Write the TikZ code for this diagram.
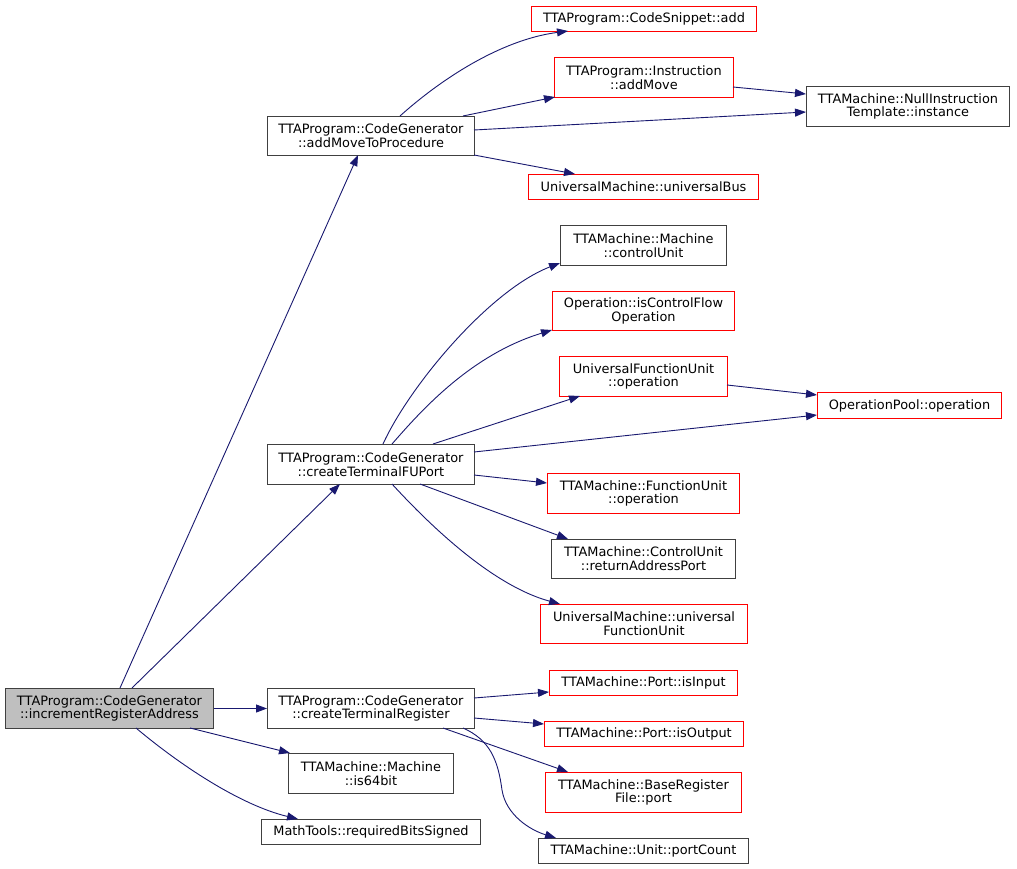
\documentclass[tikz,border=0pt]{standalone}
\usepackage{fontspec}
\setmainfont{DejaVu Sans}
\usetikzlibrary{arrows.meta,calc}
\definecolor{edgec}{HTML}{191970}
\definecolor{bordk}{HTML}{404040}
\definecolor{bordr}{HTML}{FF0000}
\definecolor{rootfill}{HTML}{BFBFBF}
\tikzset{
  bb/.style={draw=bordk,line width=1pt,inner sep=0pt,align=center,font=\fontsize{12.9}{13.8}\selectfont},
  rb/.style={draw=bordr,line width=1pt,inner sep=0pt,align=center,font=\fontsize{12.9}{13.8}\selectfont},
  ed/.style={draw=edgec,line width=0.9pt,-{Triangle[length=11pt,width=8pt]}},
}
\begin{document}
\begin{tikzpicture}[x=1pt,y=-1pt]
\useasboundingbox[fill=white] (0,0) rectangle (1017,869);
% nodes
\node[bb,fill=rootfill,minimum width=208pt,minimum height=40pt] (root) at (109.5,708.5) {TTAProgram::CodeGenerator\\::incrementRegisterAddress};
\node[bb,minimum width=207pt,minimum height=39pt] (amtp) at (371,136) {TTAProgram::CodeGenerator\\::addMoveToProcedure};
\node[rb,minimum width=225pt,minimum height=25pt] (csadd) at (644,19) {TTAProgram::CodeSnippet::add};
\node[rb,minimum width=179pt,minimum height=40pt] (iadd) at (644,77.5) {TTAProgram::Instruction\\::addMove};
\node[bb,minimum width=203pt,minimum height=40pt] (nit) at (908,106.5) {TTAMachine::NullInstruction\\Template::instance};
\node[rb,minimum width=230pt,minimum height=25pt] (ubus) at (643.5,187) {UniversalMachine::universalBus};
\node[bb,minimum width=207pt,minimum height=40pt] (ctfu) at (371,464.5) {TTAProgram::CodeGenerator\\::createTerminalFUPort};
\node[bb,minimum width=166pt,minimum height=40pt] (mcu) at (643.5,245.5) {TTAMachine::Machine\\::controlUnit};
\node[rb,minimum width=182pt,minimum height=39pt] (icf) at (643.5,311) {Operation::isControlFlow\\Operation};
\node[rb,minimum width=168pt,minimum height=40pt] (ufuop) at (643.5,376.5) {UniversalFunctionUnit\\::operation};
\node[rb,minimum width=184pt,minimum height=26pt] (oppool) at (909.5,405.5) {OperationPool::operation};
\node[rb,minimum width=192pt,minimum height=40pt] (fuop) at (643.5,493.5) {TTAMachine::FunctionUnit\\::operation};
\node[bb,minimum width=184pt,minimum height=39pt] (rap) at (643.5,559) {TTAMachine::ControlUnit\\::returnAddressPort};
\node[rb,minimum width=207pt,minimum height=39pt] (ufu) at (644,624) {UniversalMachine::universal\\FunctionUnit};
\node[bb,minimum width=207pt,minimum height=40pt] (ctr) at (371,708.5) {TTAProgram::CodeGenerator\\::createTerminalRegister};
\node[rb,minimum width=188pt,minimum height=25pt] (isin) at (643.5,683) {TTAMachine::Port::isInput};
\node[rb,minimum width=199pt,minimum height=25pt] (isout) at (644,734) {TTAMachine::Port::isOutput};
\node[rb,minimum width=196pt,minimum height=40pt] (brf) at (643.5,792.5) {TTAMachine::BaseRegister\\File::port};
\node[bb,minimum width=210pt,minimum height=25pt] (pc) at (643.5,851) {TTAMachine::Unit::portCount};
\node[bb,minimum width=165pt,minimum height=40pt] (is64) at (371,773.5) {TTAMachine::Machine\\::is64bit};
\node[bb,minimum width=219pt,minimum height=25pt] (rbs) at (371,832) {MathTools::requiredBitsSigned};
% edges from root
\draw[ed] ($(root.north west)+(115,0)$) -- ($(amtp.north west)+(91,39)$);
\draw[ed] ($(root.north west)+(127,0)$) -- ($(ctfu.north west)+(73,40)$);
\draw[ed] (root.east) -- (ctr.west);
\draw[ed] ($(root.north west)+(185,40)$) -- ($(is64.north west)+(2,0)$);
\draw[ed] ($(root.north west)+(131,40)$) .. controls (180,765) and (240,805) .. ($(rbs.north west)+(37,0)$);
% edges from addMoveToProcedure
\draw[ed] ($(amtp.north west)+(133,0)$) .. controls (440,80) and (500,40) .. ($(csadd.north west)+(37,25)$);
\draw[ed] ($(amtp.north west)+(196,0)$) -- ($(iadd.north west)+(1,40)$);
\draw[ed] ($(amtp.north west)+(207,14)$) -- ($(nit.north west)+(0,26)$);
\draw[ed] ($(iadd.north west)+(179,30)$) -- ($(nit.north west)+(0,8)$);
\draw[ed] ($(amtp.north west)+(207,39)$) -- ($(ubus.north west)+(47,0)$);
% edges from createTerminalFUPort
\draw[ed] ($(ctfu.north west)+(116,0)$) .. controls (410,385) and (490,290) .. ($(mcu.north west)+(0,38)$);
\draw[ed] ($(ctfu.north west)+(125,0)$) .. controls (420,412) and (470,355) .. ($(icf.north west)+(0,39)$);
\draw[ed] ($(ctfu.north west)+(166,0)$) -- ($(ufuop.north west)+(21,40)$);
\draw[ed] ($(ufuop.north west)+(168,29)$) -- ($(oppool.north west)+(0,3)$);
\draw[ed] ($(ctfu.north west)+(207,8)$) -- ($(oppool.north west)+(0,23)$);
\draw[ed] ($(ctfu.north west)+(207,31)$) -- ($(fuop.north west)+(0,10)$);
\draw[ed] ($(ctfu.north west)+(153,40)$) -- ($(rap.north west)+(17,0)$);
\draw[ed] ($(ctfu.north west)+(125,40)$) .. controls (425,520) and (490,585) .. ($(ufu.north west)+(20,0)$);
% edges from createTerminalRegister
\draw[ed] ($(ctr.north west)+(207,10)$) -- ($(isin.north west)+(0,22)$);
\draw[ed] ($(ctr.north west)+(207,30)$) -- ($(isout.north west)+(0,3)$);
\draw[ed] ($(ctr.north west)+(176,40)$) -- ($(brf.north west)+(23,0)$);
\draw[ed] ($(ctr.north west)+(196,40)$) .. controls (490,740) and (498,760) .. (502,790) .. controls (506,815) and (530,830) .. ($(pc.north west)+(18,0)$);
\end{tikzpicture}
\end{document}
